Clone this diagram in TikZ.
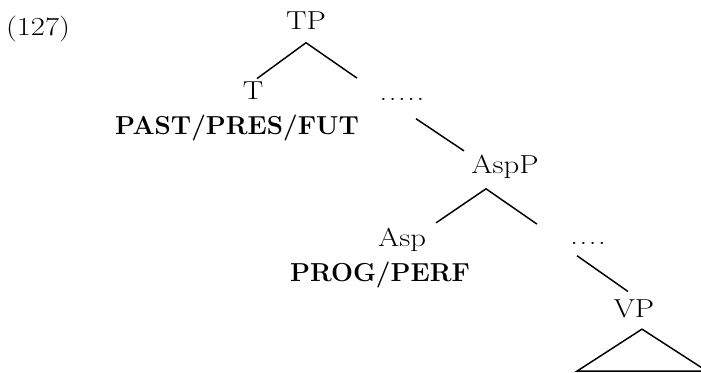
\documentclass[tikz,border=0pt]{standalone}
\usepackage{amsmath, amssymb}
\usepackage{fontspec}
\setmainfont{Latin Modern Roman}[FakeStretch=1.18,BoldFeatures={FakeStretch=1}]
\usepackage{tikz}

\begin{document}
\begin{tikzpicture}[x=0.75pt,y=-0.75pt,line width=1.1pt]
            \tikzstyle{every node}+=[inner sep=0pt,anchor=base,font=\fontsize{19.5}{23}\selectfont]
            \useasboundingbox (0,0) rectangle (701,373);
            \node (ex) at (38,36) {(127)};
            \node (tp) at (306,30) {TP};
            \node (t) at (253,100) {T};
            \node (past) at (237,135) {\textbf{PAST/PRES/FUT}};
            \node (dotsA) at (402,101) {.\kern1.2pt.\kern1.2pt.\kern1.2pt.\kern1.2pt.};
            \node (aspP) at (505,174) {AspP};
            \node (asp) at (402,247) {Asp};
            \node (prog) at (380,282) {\textbf{PROG/PERF}};
            \node (dotsB) at (588,245) {.\kern1.2pt.\kern1.2pt.\kern1.2pt.};
            \node (vp) at (634,318) {VP};
            \draw [black] ([shift={(3pt,2.25pt)}]t.north) -- ([yshift=-9pt]tp.south) -- ([shift={(-33.75pt,15pt)}]dotsA.north);
            \draw [black] ([shift={(10.5pt,-12.75pt)}]dotsA.south) -- ([shift={(-30.75pt,3pt)}]aspP.north);
            \draw [black] ([shift={(25.5pt,3.75pt)}]asp.north) -- ([shift={(-14.25pt,-6.75pt)}]aspP.south) -- ([shift={(-38.25pt,13.5pt)}]dotsB.north);
            \draw [black] ([shift={(-8.25pt,-7.5pt)}]dotsB.south) -- ([shift={(-4.5pt,6pt)}]vp.north);
            \draw [black] ([shift={(6pt,-7.5pt)}]vp.south) -- ++(-65,42) -- ++(130,0) -- cycle;
\end{tikzpicture}
\end{document}
